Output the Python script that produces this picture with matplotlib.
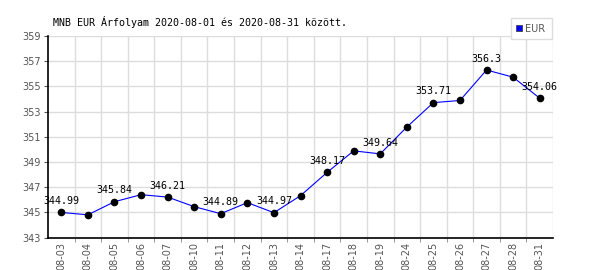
import matplotlib
matplotlib.use("Agg")
import matplotlib.pyplot as plt
import numpy as np

dates = ["08-03", "08-04", "08-05", "08-06", "08-07", "08-10", "08-11", "08-12",
         "08-13", "08-14", "08-17", "08-18", "08-19", "08-24", "08-25", "08-26",
         "08-27", "08-28", "08-31"]
rates = [344.99, 344.80, 345.84, 346.40, 346.21, 345.45, 344.89, 345.77,
         344.97, 346.32, 348.17, 349.88, 349.64, 351.77, 353.71, 353.88,
         356.30, 355.73, 354.06]
yticks = [343, 345, 347, 349, 351, 353, 355, 357, 359]
title = "MNB EUR Árfolyam 2020-08-01 és 2020-08-31 között."
series_name = "EUR"

fig = plt.figure(figsize=(6, 2.7), dpi=100)
ax = fig.add_axes([48/600, 1-237.5/270, (553-48)/600, (237.5-36)/270])

x = np.arange(len(dates))
ax.plot(x, rates, color="#0000ff", lw=0.8, zorder=3)
ax.plot(x, rates, "o", color="black", ms=4.5, zorder=4)

for i in range(0, len(rates), 2):
    ax.annotate(f"{rates[i]:g}", (x[i], rates[i]), xytext=(0, 4.5),
                textcoords="offset points", ha="center", va="bottom",
                family="DejaVu Sans Mono", fontsize=7.2, color="black", zorder=5)

ax.set_xlim(-0.5, len(dates) - 0.5)
ax.set_ylim(343, 359)
ax.set_yticks(yticks)
ax.set_yticklabels([str(v) for v in yticks], color="#555555", fontsize=7)
ax.set_xticks(x)
ax.set_xticklabels(dates, rotation=90, color="#555555", fontsize=7)
ax.set_xticks(x[:-1] + 0.5, minor=True)
ax.tick_params(axis="x", which="major", length=0, pad=3)
ax.tick_params(axis="x", which="minor", length=3, color="#888888")
ax.tick_params(axis="y", length=3, color="#555555", pad=2)

ax.grid(False)
for v in yticks:
    ax.axhline(v, color="#dddddd", lw=1, zorder=1)
for b in list(x[:-1] + 0.5) + [len(dates) - 0.5]:
    ax.axvline(b, color="#dddddd", lw=1, zorder=1)

for s in ["top", "right"]:
    ax.spines[s].set_visible(False)
ax.spines["left"].set_linewidth(1.2)
ax.spines["bottom"].set_linewidth(1.2)

fig.text(53/600, 1-22/270, title, family="DejaVu Sans Mono", fontsize=7.2,
         ha="left", va="center", color="black")

# legend box
from matplotlib.patches import Rectangle
fig.patches.append(Rectangle((511/600, 1-39/270), 41/600, 21/270,
                             transform=fig.transFigure, facecolor="white",
                             edgecolor="#dddddd", lw=1))
fig.patches.append(Rectangle((516/600, 1-31/270), 6/600, 6/270,
                             transform=fig.transFigure, facecolor="#0000ff",
                             edgecolor="#333333", lw=0.5))
fig.text(525/600, 1-28.5/270, series_name, fontsize=7, color="#555555",
         ha="left", va="center")

fig.savefig("out.png", dpi=100)
